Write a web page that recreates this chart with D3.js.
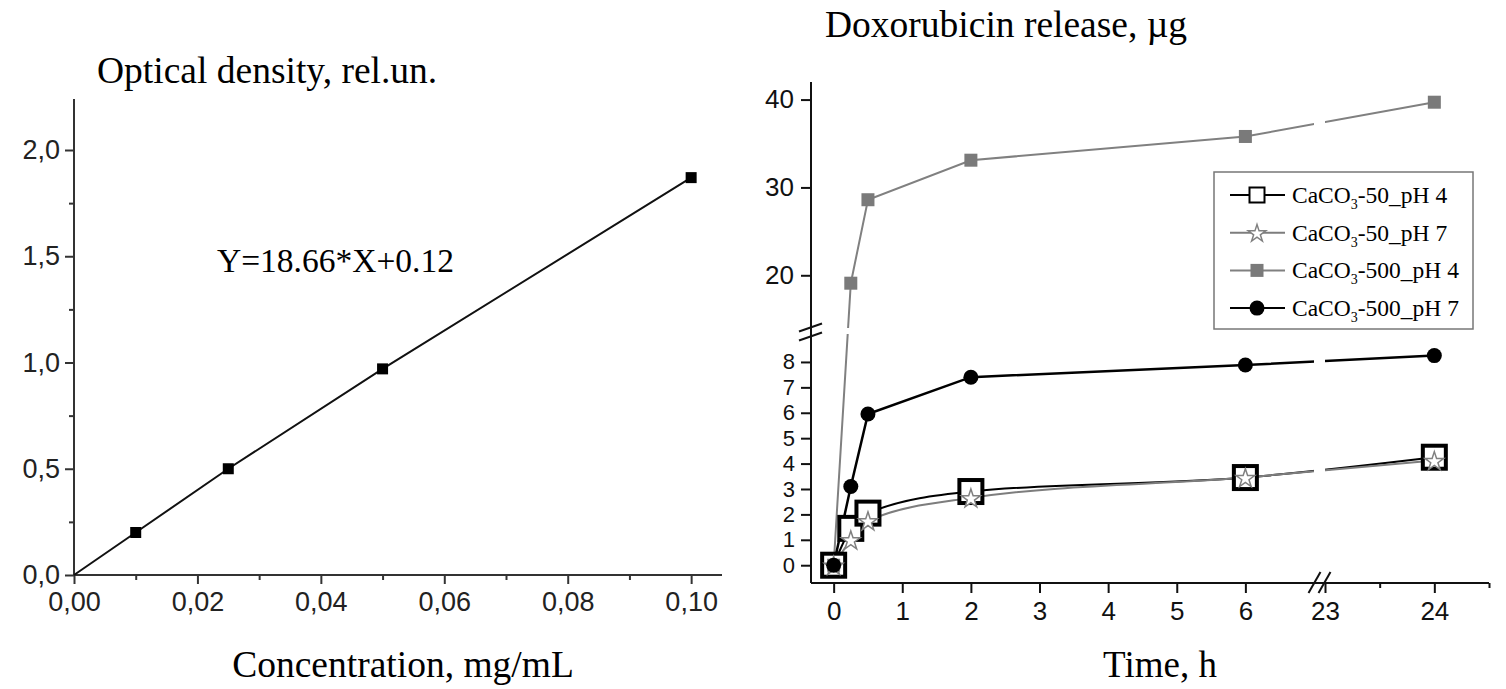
<!DOCTYPE html>
<html>
<head>
<meta charset="utf-8">
<script src="https://cdn.jsdelivr.net/npm/d3@7"></script>
<style>
  body { margin: 0; background: #fff; }
  .sans { font-family: "Liberation Sans", Arial, sans-serif; }
  .serif { font-family: "Liberation Serif", "Times New Roman", serif; }
</style>
</head>
<body>
<div id="chart"></div>
<script>
// calibration curve data
var concX = [0, 0.01, 0.025, 0.05, 0.1];
var odY = [0, 0.2, 0.5, 0.97, 1.87];
var concTicks = [0, 0.02, 0.04, 0.06, 0.08, 0.1];
var concMinor = [0.01, 0.03, 0.05, 0.07, 0.09];
var odTicks = [0, 0.5, 1.0, 1.5, 2.0];
var odMinor = [0.25, 0.75, 1.25, 1.75];

// release data
var timeH = [0, 0.25, 0.5, 2, 6, 24];
var ca50ph4 = [0, 1.45, 2.05, 2.9, 3.45, 4.25];
var ca50ph7 = [0, 1.0, 1.75, 2.65, 3.45, 4.12];
var ca500ph4 = [0, 19.1, 28.6, 33.1, 35.8, 39.7];
var ca500ph7 = [0, 3.1, 5.95, 7.4, 7.88, 8.25];
var seriesNames = ["-50_pH 4", "-50_pH 7", "-500_pH 4", "-500_pH 7"];
var timeTicksLow = [0, 1, 2, 3, 4, 5, 6];
var timeTicksHigh = [23, 24];
var timeMinorHigh = [23.5, 24.5];
var relTicksLow = [0, 1, 2, 3, 4, 5, 6, 7, 8];
var relTicksHigh = [20, 30, 40];

var svgWidth = 1506;
var svgHeight = 689;

var svg = d3.select("#chart")
  .append("svg")
  .attr("width", svgWidth)
  .attr("height", svgHeight);

// ---------------- left chart ----------------
var commaFmt = d3.formatLocale({ decimal: ",", thousands: ".", grouping: [3], currency: ["", ""] });

var xConc = d3.scaleLinear().domain([0, 0.105]).range([74, 722]);
var yOD = d3.scaleLinear().domain([0, 2.24]).range([575, 99]);

var leftG = svg.append("g").attr("class", "sans");

// minor ticks
leftG.append("g")
  .attr("transform", `translate(0, ${yOD(0)})`)
  .call(d3.axisBottom(xConc).tickValues(concMinor).tickSize(5).tickFormat(""))
  .call(g => g.select(".domain").remove());
leftG.append("g")
  .attr("transform", `translate(${xConc(0)}, 0)`)
  .call(d3.axisLeft(yOD).tickValues(odMinor).tickSize(5).tickFormat(""))
  .call(g => g.select(".domain").remove());

var xAxisL = leftG.append("g")
  .attr("transform", `translate(0, ${yOD(0)})`)
  .call(d3.axisBottom(xConc).tickValues(concTicks).tickSize(9).tickPadding(8)
    .tickFormat(commaFmt.format(".2f")));

var yAxisL = leftG.append("g")
  .attr("transform", `translate(${xConc(0)}, 0)`)
  .call(d3.axisLeft(yOD).tickValues(odTicks).tickSize(9).tickPadding(5)
    .tickFormat(commaFmt.format(".1f")));

[xAxisL, yAxisL].forEach(function (ax) {
  ax.selectAll("text").attr("font-size", 27).attr("fill", "#222").attr("font-family", null);
  ax.select(".domain").remove();
});
leftG.selectAll("g.tick line").attr("stroke", "#333").attr("stroke-width", 2);

// axis lines
leftG.append("line")
  .attr("x1", xConc(0)).attr("x2", xConc(0.105))
  .attr("y1", yOD(0)).attr("y2", yOD(0))
  .attr("stroke", "#333").attr("stroke-width", 2);
leftG.append("line")
  .attr("x1", xConc(0)).attr("x2", xConc(0))
  .attr("y1", yOD(0)).attr("y2", yOD(2.24))
  .attr("stroke", "#333").attr("stroke-width", 2);

var calData = concX.map((c, i) => ({ x: c, y: odY[i] }));

leftG.append("path")
  .datum(calData)
  .attr("fill", "none")
  .attr("stroke", "#111")
  .attr("stroke-width", 2)
  .attr("d", d3.line().x(d => xConc(d.x)).y(d => yOD(d.y)));

leftG.selectAll("rect.pt")
  .data(calData.filter(d => d.x > 0))
  .enter()
  .append("rect")
  .attr("class", "pt")
  .attr("x", d => xConc(d.x) - 5.5)
  .attr("y", d => yOD(d.y) - 5.5)
  .attr("width", 11)
  .attr("height", 11)
  .attr("fill", "#000");

svg.append("text")
  .attr("class", "serif")
  .attr("x", 97).attr("y", 83)
  .attr("font-size", 37.5)
  .text("Optical density, rel.un.");

svg.append("text")
  .attr("class", "serif")
  .attr("x", 217).attr("y", 272)
  .attr("font-size", 33.5)
  .text("Y=18.66*X+0.12");

svg.append("text")
  .attr("class", "serif")
  .attr("x", 403).attr("y", 677)
  .attr("text-anchor", "middle")
  .attr("font-size", 37.5)
  .text("Concentration, mg/mL");

// ---------------- right chart (broken axes) ----------------
var xLow = d3.scaleLinear().domain([-0.33, 7]).range([811, 1314]);
var xHigh = d3.scaleLinear().domain([23, 24.5]).range([1325, 1489]);
var yLow = d3.scaleLinear().domain([-0.7, 9.1]).range([583, 334]);
var yHigh = d3.scaleLinear().domain([14, 42]).range([328, 82]);

function xT(t) { return t <= 12 ? xLow(t) : xHigh(t); }
function yV(v) { return v <= 11 ? yLow(v) : yHigh(v); }

var axisY0 = yLow(-0.7);
var axisX0 = xLow(-0.33);

var rightG = svg.append("g").attr("class", "serif");

function styleAxis(size) {
  return function (ax) {
    ax.select(".domain").remove();
    ax.selectAll("text").attr("font-size", size).attr("fill", "#111").attr("font-family", null);
    ax.selectAll("line").attr("stroke", "#111").attr("stroke-width", 2);
  };
}

rightG.append("g")
  .attr("transform", `translate(0, ${axisY0})`)
  .call(d3.axisBottom(xLow).tickValues(timeTicksLow).tickSize(10).tickPadding(9).tickFormat(d3.format("d")))
  .call(styleAxis(26));
rightG.append("g")
  .attr("transform", `translate(0, ${axisY0})`)
  .call(d3.axisBottom(xHigh).tickValues(timeTicksHigh).tickSize(10).tickPadding(9).tickFormat(d3.format("d")))
  .call(styleAxis(26));
rightG.append("g")
  .attr("transform", `translate(0, ${axisY0})`)
  .call(d3.axisBottom(xHigh).tickValues(timeMinorHigh).tickSize(5).tickFormat(""))
  .call(styleAxis(26));
rightG.append("g")
  .attr("transform", `translate(${axisX0}, 0)`)
  .call(d3.axisLeft(yLow).tickValues(relTicksLow).tickSize(10).tickPadding(6).tickFormat(d3.format("d")))
  .call(styleAxis(22));
rightG.append("g")
  .attr("transform", `translate(${axisX0}, 0)`)
  .call(d3.axisLeft(yHigh).tickValues(relTicksHigh).tickSize(10).tickPadding(7).tickFormat(d3.format("d")))
  .call(styleAxis(26));

// continuous axis lines
rightG.append("line")
  .attr("x1", axisX0).attr("x2", xHigh(24.5))
  .attr("y1", axisY0).attr("y2", axisY0)
  .attr("stroke", "#111").attr("stroke-width", 2);
rightG.append("line")
  .attr("x1", axisX0).attr("x2", axisX0)
  .attr("y1", axisY0).attr("y2", yHigh(42))
  .attr("stroke", "#111").attr("stroke-width", 2);

// break marks
var yBreak = (yHigh(14) + yLow(9.1)) / 2 + 1;
[-4.5, 4.5].forEach(function (k) {
  rightG.append("line")
    .attr("x1", axisX0 - 12).attr("y1", yBreak + k + 4)
    .attr("x2", axisX0 + 11).attr("y2", yBreak + k - 4)
    .attr("stroke", "#111").attr("stroke-width", 2);
});
var xBreak = (xLow(7) + xHigh(23)) / 2;
[-5, 5].forEach(function (k) {
  rightG.append("line")
    .attr("x1", xBreak + k - 6).attr("y1", axisY0 + 10)
    .attr("x2", xBreak + k + 6).attr("y2", axisY0 - 11)
    .attr("stroke", "#111").attr("stroke-width", 2);
});

// mask to cut lines at the breaks
var mask = svg.append("defs").append("mask").attr("id", "breakMask");
mask.append("rect").attr("x", 0).attr("y", 0).attr("width", svgWidth).attr("height", svgHeight).attr("fill", "#fff");
mask.append("rect")
  .attr("x", xLow(7)).attr("y", 0)
  .attr("width", xHigh(23) - xLow(7)).attr("height", axisY0 - 2)
  .attr("fill", "#000");
mask.append("rect")
  .attr("x", axisX0 + 2).attr("y", yHigh(14))
  .attr("width", svgWidth).attr("height", yLow(9.1) - yHigh(14))
  .attr("fill", "#000");

var series = [
  { vals: ca50ph4, color: "#000", width: 2, curve: d3.curveMonotoneX },
  { vals: ca50ph7, color: "#7d7d7d", width: 2, curve: d3.curveMonotoneX },
  { vals: ca500ph4, color: "#808080", width: 2, curve: d3.curveLinear },
  { vals: ca500ph7, color: "#000", width: 2.5, curve: d3.curveLinear }
];
series.forEach(s => { s.pts = timeH.map((t, i) => ({ t: t, v: s.vals[i] })); });

var linesG = rightG.append("g").attr("mask", "url(#breakMask)");

function drawMarkers(g, idx, pts, big) {
  var sel = g.selectAll(null).data(pts).enter();
  if (idx === 0) {
    var s = big ? 23 : 15;
    sel.append("rect")
      .attr("x", d => d.x - s / 2).attr("y", d => d.y - s / 2)
      .attr("width", s).attr("height", s)
      .attr("fill", "#fff").attr("stroke", "#000").attr("stroke-width", big ? 4 : 2);
  } else if (idx === 1) {
    sel.append("path")
      .attr("transform", d => `translate(${d.x},${d.y + 1})`)
      .attr("d", d3.symbol(d3.symbolStar, big ? 110 : 95)())
      .attr("fill", "#fff").attr("stroke", "#808080").attr("stroke-width", 1.5);
  } else if (idx === 2) {
    var q = 13;
    sel.append("rect")
      .attr("x", d => d.x - q / 2).attr("y", d => d.y - q / 2)
      .attr("width", q).attr("height", q)
      .attr("fill", "#7a7a7a");
  } else {
    sel.append("circle")
      .attr("cx", d => d.x).attr("cy", d => d.y)
      .attr("r", 7.5)
      .attr("fill", "#000");
  }
}

series.forEach(function (s, i) {
  var px = s.pts.map(d => ({ x: xT(d.t), y: yV(d.v) }));
  linesG.append("path")
    .datum(px)
    .attr("fill", "none")
    .attr("stroke", s.color)
    .attr("stroke-width", s.width)
    .attr("d", d3.line().x(d => d.x).y(d => d.y).curve(s.curve));
});

// markers drawn over the lines
series.forEach(function (s, i) {
  var px = s.pts.map(d => ({ x: xT(d.t), y: yV(d.v) }));
  drawMarkers(rightG.append("g"), i, px, true);
});

// legend
var legX = 1214, legY = 172;
var legend = rightG.append("g");
legend.append("rect")
  .attr("x", legX).attr("y", legY)
  .attr("width", 259).attr("height", 157)
  .attr("fill", "#fff").attr("stroke", "#777").attr("stroke-width", 1.5);

seriesNames.forEach(function (name, i) {
  var cy = legY + 23 + i * 37.7;
  legend.append("line")
    .attr("x1", legX + 16).attr("x2", legX + 71)
    .attr("y1", cy).attr("y2", cy)
    .attr("stroke", series[i].color).attr("stroke-width", 2);
  drawMarkers(legend.append("g"), i, [{ x: legX + 43, y: cy }], false);
  var txt = legend.append("text")
    .attr("x", legX + 78).attr("y", cy + 8)
    .attr("font-size", 23.5);
  txt.append("tspan").text("CaCO");
  txt.append("tspan").attr("font-size", 14).attr("dy", 6).text("3");
  txt.append("tspan").attr("dy", -6).text(name);
});

svg.append("text")
  .attr("class", "serif")
  .attr("x", 825).attr("y", 37)
  .attr("font-size", 37.5)
  .text("Doxorubicin release, \u00b5g");

svg.append("text")
  .attr("class", "serif")
  .attr("x", 1160).attr("y", 677)
  .attr("text-anchor", "middle")
  .attr("font-size", 37)
  .text("Time, h");
</script>
</body>
</html>
